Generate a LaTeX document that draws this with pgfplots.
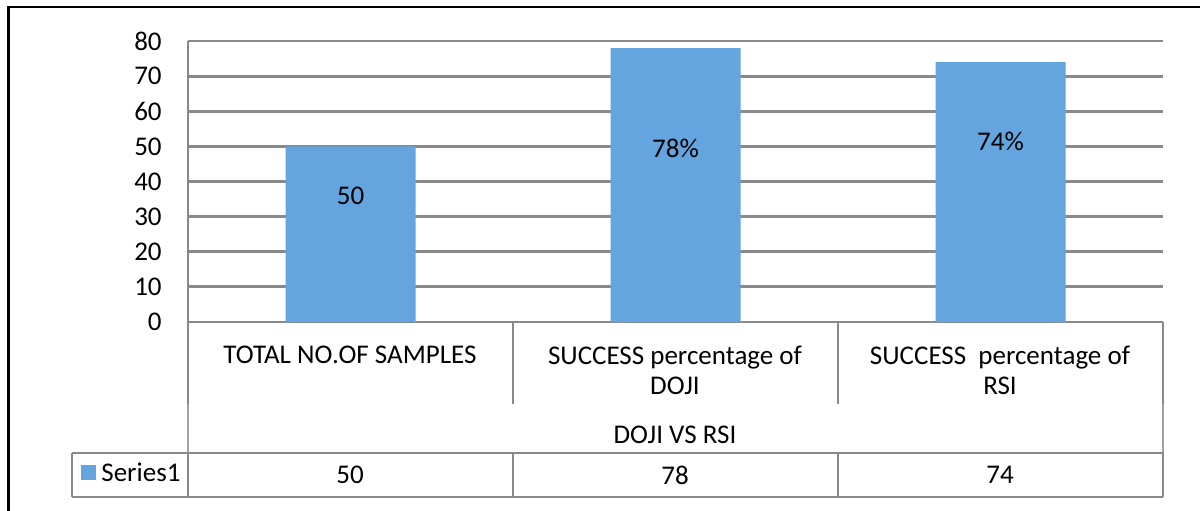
\documentclass[border=0pt]{standalone}
\usepackage{pgfplots}
\pgfplotsset{compat=1.18}
\usepackage{fontspec}
\setmainfont{Carlito}
\definecolor{barblue}{RGB}{100,164,223}
\definecolor{gridgray}{RGB}{137,137,137}
\newcommand{\cf}{\fontsize{13.5}{15}\selectfont}
\begin{document}
\begin{tikzpicture}
\path[use as bounding box] (0,0) rectangle (600pt,255pt);
\draw[black, line width=1.3pt] (4.25pt,-10pt) -- (4.25pt,251.5pt) -- (610pt,251.5pt);
\begin{axis}[at={(94pt,94pt)}, anchor=south west,
  width=487.5pt, height=140.5pt, scale only axis,
  xmin=-0.5, xmax=2.5, ymin=0, ymax=80,
  ytick={0,10,...,80}, xtick=\empty,
  ymajorgrids, grid style={gridgray, line width=1.4pt},
  axis y line=left, axis x line=bottom,
  axis line style={-, gridgray, line width=1.4pt},
  ytick style={draw=none},
  yticklabel style={font=\cf, xshift=-7.5pt},
  /pgf/number format/assume math mode=true,
  ybar, bar width=65pt]
\addplot[fill=barblue, draw=none] coordinates {(0,50) (1,78) (2,74)};
\node[font=\cf] at (axis cs:0,35.9) {50};
\node[font=\cf] at (axis cs:1,49.5) {78\%};
\node[font=\cf] at (axis cs:2,51.3) {74\%};
\end{axis}
% data table
\begin{scope}[gridgray, line width=1.3pt]
\foreach \x in {94,256.5,419,581.5} \draw (\x pt,94pt) -- (\x pt,53pt);
\draw[line width=0.8pt, gridgray!80] (94pt,53pt) -- (94pt,28.5pt);
\draw[line width=0.8pt, gridgray!80] (581.5pt,53pt) -- (581.5pt,28.5pt);
\draw (36pt,28.5pt) -- (581.5pt,28.5pt);
\draw (36pt,6.5pt) -- (581.5pt,6.5pt);
\foreach \x in {36,94,256.5,419,581.5} \draw (\x pt,28.5pt) -- (\x pt,6.5pt);
\end{scope}
\node[font=\cf] at (175pt,77.5pt) {TOTAL NO.OF SAMPLES};
\node[font=\cf, align=center] at (337.5pt,70pt) {SUCCESS percentage of\\DOJI};
\node[font=\cf, align=center] at (500pt,70pt) {SUCCESS~ percentage of\\RSI};
\node[font=\cf] at (337.5pt,37.5pt) {DOJI VS RSI};
\fill[barblue] (40.5pt,22.5pt) rectangle (48pt,15pt);
\node[font=\cf, anchor=west, inner sep=0pt] at (50.5pt,18.75pt) {Series1};
\node[font=\cf] at (175pt,17.5pt) {50};
\node[font=\cf] at (337.5pt,17.5pt) {78};
\node[font=\cf] at (500pt,17.5pt) {74};
\end{tikzpicture}
\end{document}
